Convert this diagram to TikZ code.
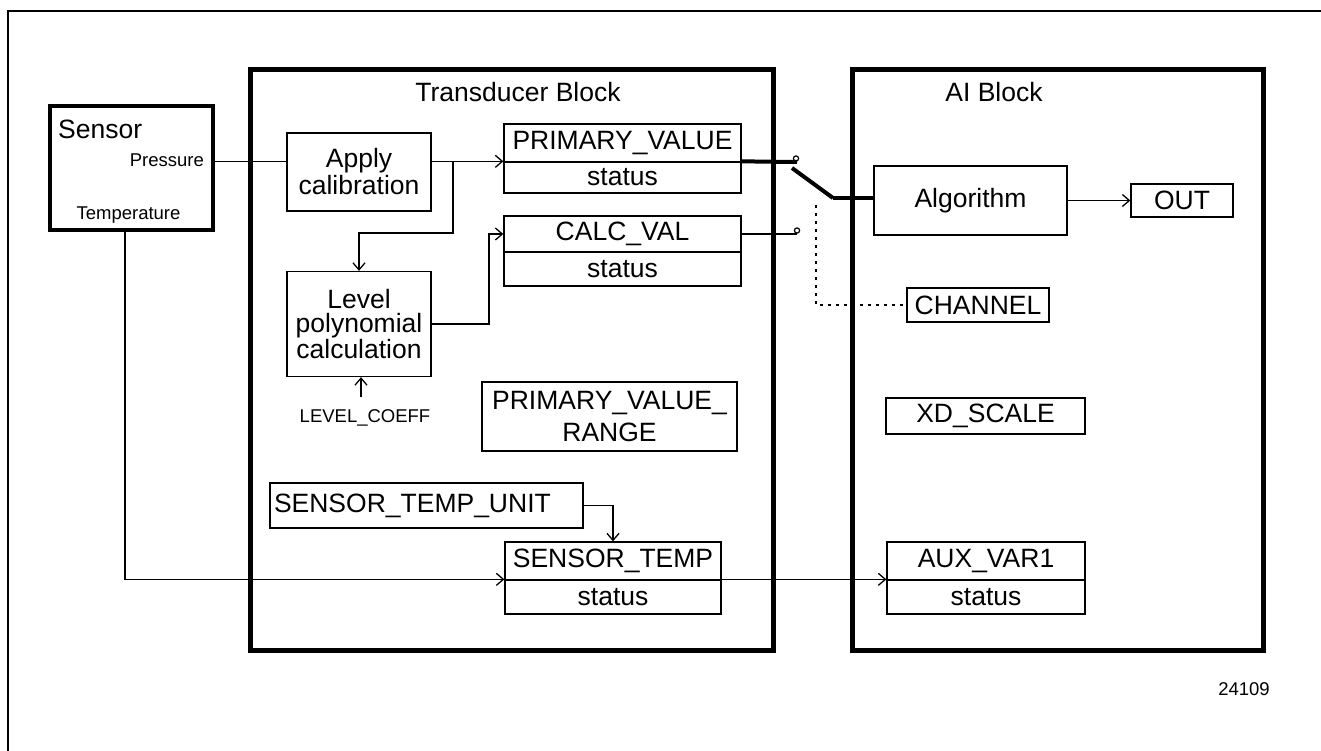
\documentclass[tikz,border=0pt]{standalone}
\usepackage{fontspec}
\setmainfont{Liberation Sans}
\usetikzlibrary{arrows.meta}
\begin{document}
\begin{tikzpicture}[x=1pt,y=-1pt,
  box/.style={draw, line width=1.3pt, inner sep=0pt, align=center, font=\fontsize{26.5}{27}\selectfont},
  blockbox/.style={draw, line width=5pt, inner sep=0pt},
  lbl/.style={inner sep=0pt, font=\fontsize{26.5}{27}\selectfont},
  smalllbl/.style={inner sep=0pt, font=\fontsize{18.5}{20}\selectfont},
  conn/.style={line width=1.3pt},
  arr/.style={line width=1.3pt, -{Straight Barb[length=7pt,width=12pt]}},
  thicksw/.style={line width=4pt},
  ctrl/.style={line width=1.3pt, dash pattern=on 3pt off 5pt}
]
\useasboundingbox (0,0) rectangle (1321,751);
% outer frame
\draw[line width=2pt] (8,751) -- (8,11) -- (1321,11);

% blocks
\node[blockbox, minimum width=523, minimum height=580] (tb) at (511.5,360) {};
\node[blockbox, minimum width=411, minimum height=580] (ai) at (1057.5,360) {};
\node[lbl, anchor=base] (tbt) at (518,102) {Transducer Block};
\node[lbl, anchor=base] (ait) at (994,102) {AI Block};

% sensor
\node[draw, line width=4pt, inner sep=0pt, minimum width=163, minimum height=124] (sensor) at (131.5,168) {};
\node[lbl, anchor=base west] (sensort) at (58,139) {Sensor};
\node[smalllbl, anchor=base east] (press) at (204,167) {Pressure};
\node[smalllbl, anchor=base] (temp) at (128.5,220) {Temperature};

% transducer contents
\node[box, minimum width=144, minimum height=78] (cal) at (359,172) {Apply\\calibration};
\node[box, minimum width=144, minimum height=105, font=\fontsize{26.5}{24}\selectfont] (level) at (359,324) {Level\\polynomial\\calculation};
\node[box, minimum width=237, minimum height=38] (pv) at (622.5,143) {PRIMARY\_VALUE};
\node[box, minimum width=237, minimum height=31] (pvs) at (622.5,177.5) {status};
\node[box, minimum width=237, minimum height=36] (calc) at (622.5,234) {CALC\_VAL};
\node[box, minimum width=237, minimum height=34] (calcs) at (622.5,269) {status};
\node[box, minimum width=255, minimum height=69, font=\fontsize{26.5}{32}\selectfont] (pvr) at (609.5,416.5) {PRIMARY\_VALUE\_\\RANGE};
\node[box, minimum width=313, minimum height=45, text width=305, align=left, inner xsep=4pt] (stu) at (426.5,505.5) {SENSOR\_TEMP\_UNIT};
\node[box, minimum width=216, minimum height=38] (st) at (613,561) {SENSOR\_TEMP};
\node[box, minimum width=216, minimum height=34] (sts) at (613,597) {status};
\node[smalllbl, anchor=base] (lc) at (365,422) {LEVEL\_COEFF};

% AI contents
\node[box, minimum width=193, minimum height=69] (alg) at (970.5,200.5) {Algorithm};
\node[box, minimum width=102, minimum height=33] (out) at (1182,200.5) {OUT};
\node[box, minimum width=142, minimum height=34] (chan) at (978,305) {CHANNEL};
\node[box, minimum width=199, minimum height=36] (xd) at (985.5,416) {XD\_SCALE};
\node[box, minimum width=198, minimum height=38] (aux) at (986,561) {AUX\_VAR1};
\node[box, minimum width=198, minimum height=34] (auxs) at (986,597) {status};

\node[smalllbl, anchor=base] (num) at (1244,695) {24109};

% connectors
\coordinate (br) at (453,162);
\draw[conn] (sensor.east |- pvs.north) -- (cal.west |- pvs.north);
\draw[arr] (cal.east |- pvs.north) -- (pvs.north west);
\draw[arr] (br) -- (453,233) -| (level.north);
\draw[arr] (level.east) -| (489,234) -- (calc.west);
\coordinate (lcs) at (361,397);
\draw[arr] (lcs) -- (lcs |- level.south);

\draw[arr] ([xshift=-6.5pt]sensor.south) |- (sts.north west);
\draw[arr] (stu.east) -| (st.north);
\draw[arr] (sts.north east) -- (auxs.north west);

% switch
\coordinate (t1) at (797,162);
\coordinate (t2) at (797,234);
\coordinate (b1) at (792,168);
\coordinate (b2) at (833,198);
\draw[thicksw] (pvs.north east) -- (t1);
\draw[line width=1.2pt] (796,158.5) circle[radius=2.6];
\draw[conn] (calc.east) -- (t2);
\draw[line width=1.2pt] (797,230.5) circle[radius=2.6];
\draw[thicksw] (b1) -- (b2);
\draw[thicksw] (b2) -- (alg.west |- b2);
\draw[ctrl] (816,205) |- (chan.west);
\draw[arr] (alg.east |- out.west) -- (out.west);
\end{tikzpicture}
\end{document}
